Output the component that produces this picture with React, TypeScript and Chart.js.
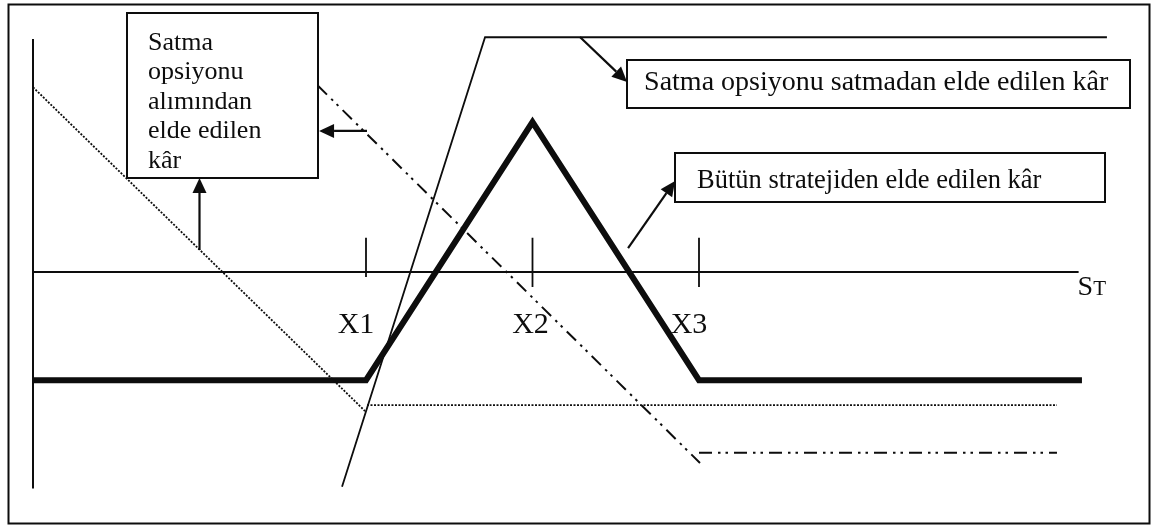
import React, { useEffect, useRef } from "react";
import { Chart, registerables } from "chart.js";

Chart.register(...registerables);

// ---- Data (S_T on x, profit on y) ----
const strikeLabels = ["X1", "X2", "X3"];
const strikes = [20, 30, 40];
const tickTop = [2.05, 2.05, 2.05];
const tickBottom = [-0.3, -0.9, -0.9];

const stAxisX = [0, 62.8];
const stAxisY = [0, 0];
const profitAxisX = [0, 0];
const profitAxisY = [14.0, -13.0];

// Whole strategy (thick)
const strategyX = [0, 20, 30, 40, 63.0];
const strategyY = [-6.5, -6.5, 9.0, -6.5, -6.5];

// Long put, low strike (dotted)
const longPutLowSlopeX = [0, 19.94];
const longPutLowSlopeY = [11.1, -8.35];
const longPutLowFlatX = [20.06, 61.5];
const longPutLowFlatY = [-8.0, -8.0];

// Long put, high strike (dash-dot-dot)
const longPutHighSlopeX = [17.1, 40.06];
const longPutHighSlopeY = [11.2, -11.47];
const longPutHighFlatX = [40.0, 61.5];
const longPutHighFlatY = [-10.85, -10.85];

// Short puts (thin solid)
const shortPutsX = [18.56, 27.15, 64.5];
const shortPutsY = [-12.9, 14.1, 14.1];

// ---- Annotation layout ----
const boxA = { x0: 5.65, x1: 17.12, y0: 15.56, y1: 5.65, lines: ["Satma", "opsiyonu", "alımından", "elde edilen", "kâr"] };
const boxB = { x0: 35.68, x1: 65.89, y0: 12.73, y1: 9.85, lines: ["Satma opsiyonu satmadan elde edilen kâr"] };
const boxC = { x0: 38.56, x1: 64.38, y0: 7.15, y1: 4.2, lines: ["Bütün stratejiden elde edilen kâr"] };
const arrows = [
  { from: [10.0, 1.32], to: [10.0, 5.65] },
  { from: [20.06, 8.47], to: [17.18, 8.47] },
  { from: [32.85, 14.11], to: [35.68, 11.41] },
  { from: [35.74, 1.44], to: [38.56, 5.47] },
];

const SERIF = '"Liberation Serif", "Times New Roman", serif';
const INK = "#0d0d0d";

const pts = (xs: number[], ys: number[]) => xs.map((v, i) => ({ x: v, y: ys[i] }));

const notesPlugin = {
  id: "diagramNotes",
  afterDatasetsDraw(chart: any) {
    const { ctx } = chart;
    const sx = chart.scales.x;
    const sy = chart.scales.y;
    const px = (v: number) => sx.getPixelForValue(v);
    const py = (v: number) => sy.getPixelForValue(v);
    ctx.save();
    ctx.strokeStyle = INK;
    ctx.fillStyle = INK;

    // outer frame
    ctx.lineWidth = 2;
    ctx.strokeRect(8.5, 4.5, 1141, 519);

    // strike labels
    ctx.font = `30px ${SERIF}`;
    ctx.textAlign = "center";
    ctx.textBaseline = "alphabetic";
    const dx = [-10, -2, -10];
    strikeLabels.forEach((lab, i) => {
      ctx.fillText(lab, px(strikes[i]) + dx[i], py(0) + 61);
    });

    // S_T label
    ctx.textAlign = "left";
    const sxEnd = px(stAxisX[1]) - 1;
    ctx.font = `28px ${SERIF}`;
    ctx.fillText("S", sxEnd, py(0) + 23);
    const sw = ctx.measureText("S").width;
    ctx.font = `21px ${SERIF}`;
    ctx.fillText("T", sxEnd + sw, py(0) + 23);

    // boxes
    const drawBox = (b: any, font: string, dxText: number, dyBase: number, lh: number) => {
      const l = px(b.x0), r = px(b.x1), t = py(b.y0), btm = py(b.y1);
      ctx.fillStyle = "#fff";
      ctx.fillRect(l, t, r - l, btm - t);
      ctx.lineWidth = 2;
      ctx.strokeStyle = INK;
      ctx.strokeRect(Math.round(l), Math.round(t), Math.round(r - l), Math.round(btm - t));
      ctx.fillStyle = INK;
      ctx.font = font;
      ctx.textAlign = "left";
      b.lines.forEach((s: string, i: number) => ctx.fillText(s, l + dxText, t + dyBase + i * lh));
    };
    drawBox(boxA, `26px ${SERIF}`, 21, 37, 29.5);
    drawBox(boxB, `28px ${SERIF}`, 17, 30, 0);
    drawBox(boxC, `26.5px ${SERIF}`, 22, 35, 0);

    // arrows
    ctx.lineWidth = 2.2;
    arrows.forEach((a) => {
      const x0 = px(a.from[0]), y0 = py(a.from[1]);
      const x1 = px(a.to[0]), y1 = py(a.to[1]);
      const ang = Math.atan2(y1 - y0, x1 - x0);
      const len = 15, hw = 7;
      const bx = x1 - len * Math.cos(ang), by = y1 - len * Math.sin(ang);
      ctx.beginPath();
      ctx.moveTo(x0, y0);
      ctx.lineTo(bx, by);
      ctx.stroke();
      ctx.beginPath();
      ctx.moveTo(x1, y1);
      ctx.lineTo(bx + hw * Math.sin(ang), by - hw * Math.cos(ang));
      ctx.lineTo(bx - hw * Math.sin(ang), by + hw * Math.cos(ang));
      ctx.closePath();
      ctx.fill();
    });
    ctx.restore();
  },
};

export default function App() {
  const ref = useRef<HTMLCanvasElement | null>(null);
  useEffect(() => {
    if (!ref.current) return;
    const W = 1155, H = 527;
    const unit = 16.65, ox = 33, oy = 272;
    const line = (data: any[], width: number, dash: number[] = []) => ({
      data,
      showLine: true,
      borderColor: INK,
      borderWidth: width,
      borderDash: dash,
      pointRadius: 0,
      borderJoinStyle: "miter" as const,
      borderCapStyle: "butt" as const,
      tension: 0,
      fill: false,
    });
    const dotted = [2, 1.5];
    const dashDotDot = [13, 6, 2.5, 5, 2.5, 6];
    const datasets: any[] = [
      line(pts(stAxisX, stAxisY), 2),
      line(pts(profitAxisX, profitAxisY), 2),
      ...strikes.map((s, i) => line(pts([s, s], [tickTop[i], tickBottom[i]]), 1.8)),
      line(pts(longPutLowSlopeX, longPutLowSlopeY), 1.8, dotted),
      line(pts(longPutLowFlatX, longPutLowFlatY), 1.8, dotted),
      line(pts(longPutHighSlopeX, longPutHighSlopeY), 2, dashDotDot),
      line(pts(longPutHighFlatX, longPutHighFlatY), 2, dashDotDot),
      line(pts(shortPutsX, shortPutsY), 1.8),
      line(pts(strategyX, strategyY), 6),
    ];
    const chart = new Chart(ref.current, {
      type: "scatter",
      data: { datasets },
      options: {
        responsive: false,
        animation: false,
        events: [],
        devicePixelRatio: 1,
        layout: { padding: 0, autoPadding: false },
        plugins: { legend: { display: false }, tooltip: { enabled: false }, title: { display: false } },
        scales: {
          x: { type: "linear", display: false, min: -ox / unit, max: (W - ox) / unit },
          y: { type: "linear", display: false, min: -(H - oy) / unit, max: oy / unit },
        },
      },
      plugins: [notesPlugin],
    });
    return () => chart.destroy();
  }, []);
  return (
    <div style={{ position: "absolute", left: 0, top: 0, width: 1155, height: 527, background: "#fff" }}>
      <canvas ref={ref} width={1155} height={527} style={{ display: "block", width: 1155, height: 527 }} />
    </div>
  );
}
